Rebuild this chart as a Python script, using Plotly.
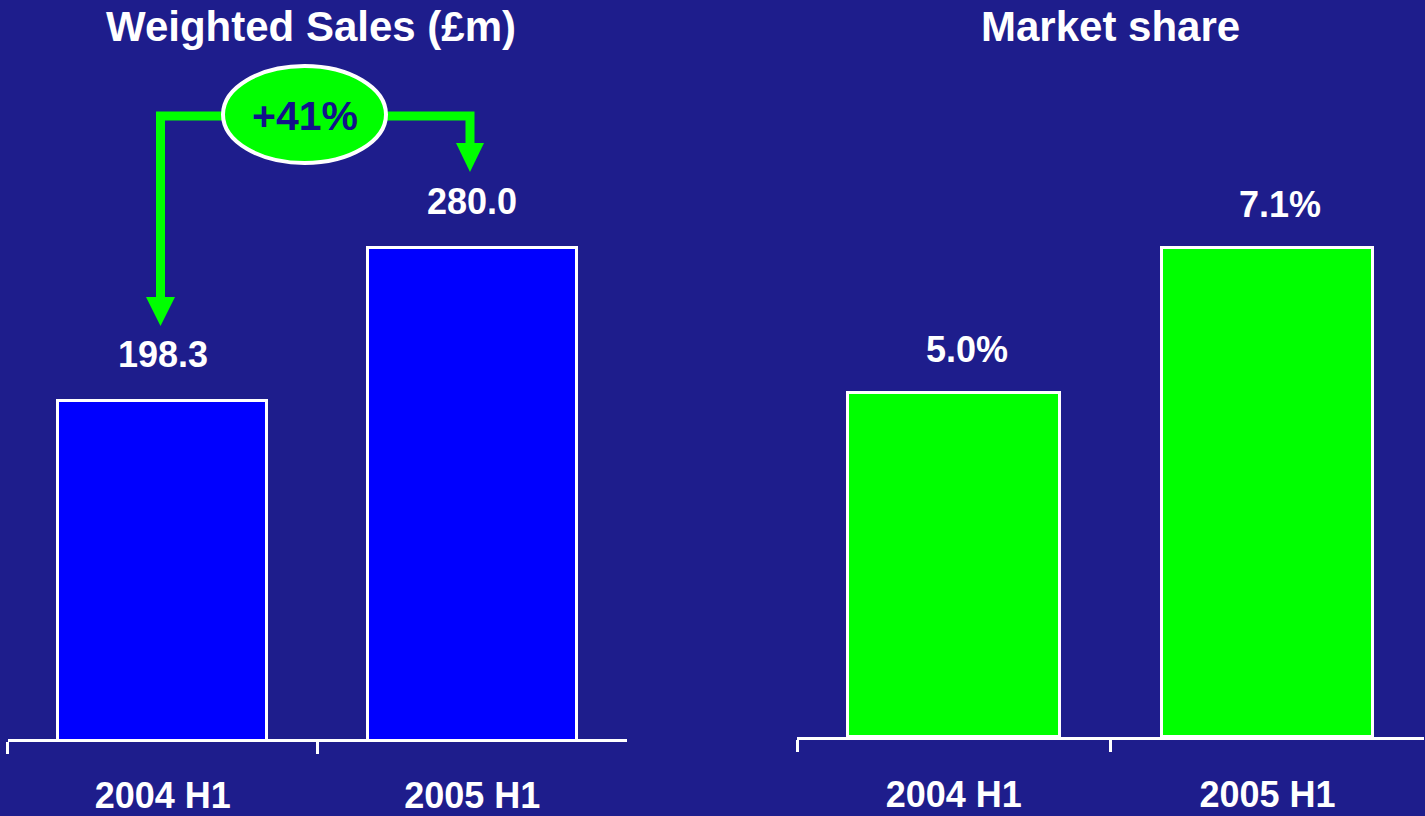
import plotly.graph_objects as go

# ---- data -------------------------------------------------------------
periods = ["2004 H1", "2005 H1"]
weighted_sales = [198.3, 280.0]      # £m
market_share = [5.0, 7.1]            # %
sales_labels = ["198.3", "280.0"]
share_labels = ["5.0%", "7.1%"]
growth_label = "+41%"
titles = ["Weighted Sales (£m)", "Market share"]

# ---- styling ----------------------------------------------------------
W, H = 1425, 816
BG = "#1e1d8c"
BLUE = "#0000ff"
GREEN = "#00ff00"
WHITE = "#ffffff"
FONT = "Liberation Sans, Arial, sans-serif"


def px(x, y):
    """Pixel position -> paper coordinates."""
    return x / W, 1 - y / H


fig = go.Figure()

fig.add_trace(go.Bar(
    x=periods, y=weighted_sales, xaxis="x", yaxis="y",
    marker=dict(color=BLUE, line=dict(color=WHITE, width=3)),
    width=0.675, hoverinfo="skip",
))
fig.add_trace(go.Bar(
    x=periods, y=market_share, xaxis="x2", yaxis="y2",
    marker=dict(color=GREEN, line=dict(color=WHITE, width=3)),
    width=0.675, hoverinfo="skip",
))

xaxis_common = dict(
    type="category", showgrid=False, zeroline=False,
    showline=True, linecolor=WHITE, linewidth=3,
    ticks="outside", tickson="boundaries", ticklen=12, tickwidth=3,
    tickcolor=WHITE,
    tickfont=dict(family=FONT, size=36, color=WHITE, weight="bold"),
    fixedrange=True,
)
yaxis_common = dict(visible=False, showgrid=False, zeroline=False, fixedrange=True)

fig.update_layout(
    width=W, height=H,
    margin=dict(l=0, r=0, t=0, b=0, autoexpand=False),
    paper_bgcolor=BG, plot_bgcolor=BG,
    showlegend=False, bargap=0,
    xaxis=dict(domain=[0.00561, 0.44], anchor="y", ticklabelstandoff=22,
               **xaxis_common),
    yaxis=dict(domain=[0.0938, 1.0], range=[18.2, 411.8], anchor="x", **yaxis_common),
    xaxis2=dict(domain=[0.5593, 0.9995], anchor="y2", ticklabelstandoff=24,
                **xaxis_common),
    yaxis2=dict(domain=[0.0968, 1.0], range=[0, 10.7], anchor="x2", **yaxis_common),
)

# value labels above each bar
label_font = dict(family=FONT, size=36, color=WHITE, weight="bold")
for p, v, t in zip(periods, weighted_sales, sales_labels):
    fig.add_annotation(x=p, y=v, xref="x", yref="y", text=t, showarrow=False,
                       yanchor="bottom", yshift=24, font=label_font)
for p, v, t in zip(periods, market_share, share_labels):
    fig.add_annotation(x=p, y=v, xref="x2", yref="y2", text=t, showarrow=False,
                       yanchor="bottom", xshift=13, yshift=21, font=label_font)

# panel titles
title_font = dict(family=FONT, size=42, color=WHITE, weight="bold")
for cx, t in zip([311, 1110], titles):
    x, y = px(cx, 27)
    fig.add_annotation(x=x, y=y, xref="paper", yref="paper", text=t,
                       showarrow=False, xanchor="center", yanchor="middle",
                       font=title_font)

# growth connector: elbow arrows from the oval to each bar
def path(points):
    pts = [px(a, b) for a, b in points]
    return "M " + " L ".join(f"{a:.5f},{b:.5f}" for a, b in pts)


fig.add_shape(type="path", xref="paper", yref="paper",
              path=path([(224, 116), (160.5, 116), (160.5, 298)]),
              line=dict(color=GREEN, width=9), layer="above")
fig.add_shape(type="path", xref="paper", yref="paper",
              path=path([(146, 297), (175, 297), (160.5, 326)]) + " Z",
              line=dict(color=GREEN, width=0), fillcolor=GREEN, layer="above")
fig.add_shape(type="path", xref="paper", yref="paper",
              path=path([(385, 116), (470, 116), (470, 144)]),
              line=dict(color=GREEN, width=9), layer="above")
fig.add_shape(type="path", xref="paper", yref="paper",
              path=path([(456, 143), (484, 143), (470, 172)]) + " Z",
              line=dict(color=GREEN, width=0), fillcolor=GREEN, layer="above")

x0, y0 = px(223, 163)
x1, y1 = px(386, 66)
fig.add_shape(type="circle", xref="paper", yref="paper",
              x0=x0, x1=x1, y0=y0, y1=y1,
              fillcolor=GREEN, line=dict(color=WHITE, width=4), layer="above")
gx, gy = px(305, 116)
fig.add_annotation(x=gx, y=gy, xref="paper", yref="paper", text=growth_label,
                   showarrow=False, xanchor="center", yanchor="middle",
                   font=dict(family=FONT, size=41, color="#12128a", weight="bold"))

fig.write_html("out.html")
